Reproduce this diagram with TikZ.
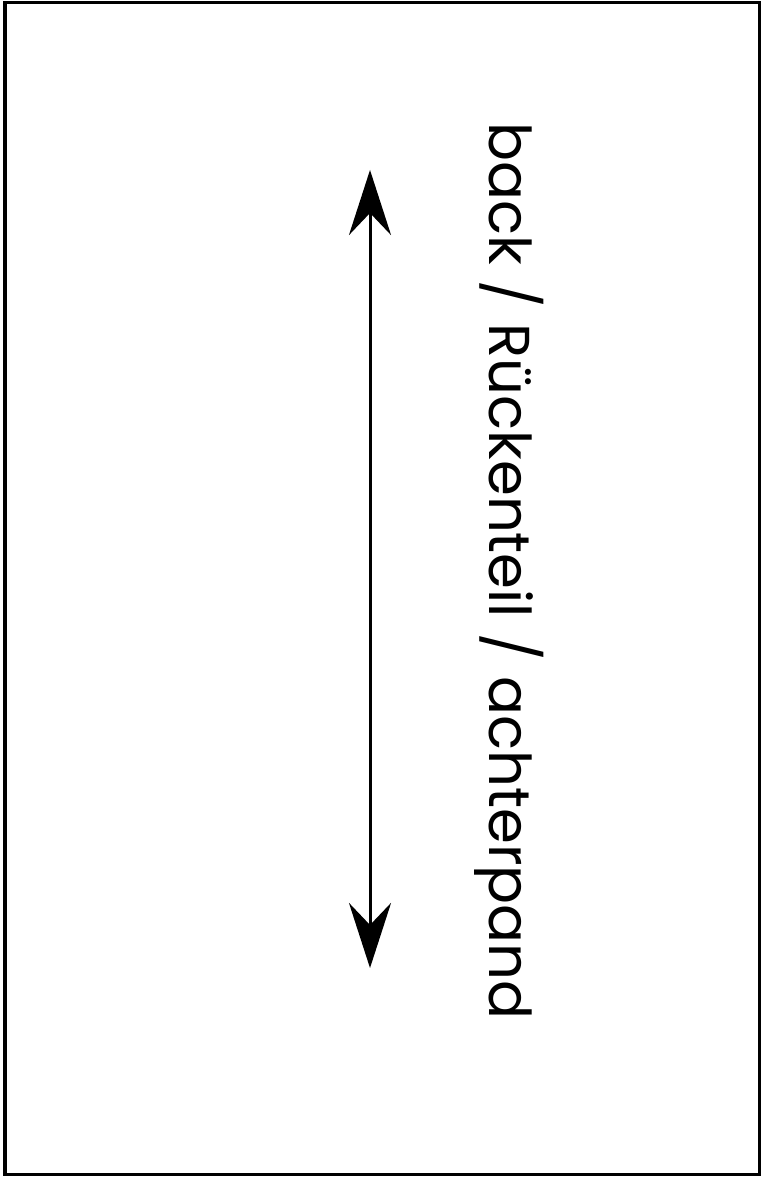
\documentclass[tikz,border=0pt]{standalone}
\usepackage{fontspec}
\setmainfont{Poppins}
\usetikzlibrary{arrows.meta}

\begin{document}
\begin{tikzpicture}
	[x=0.01cm, y=-0.01cm,
	frame/.style={draw=black, line width=0.3mm},
	grainline/.style={line width=0.3mm, {Stealth[length=6.5mm,width=4.2mm,inset=2.2mm]}-{Stealth[length=6.5mm,width=4.2mm,inset=2.2mm]}},
	label/.style={rotate=-90, anchor=base west, inner sep=0pt, font=\fontsize{16.4}{18}\selectfont}]
	\useasboundingbox (0,0) rectangle (763,1177);
	\draw [frame] (5,3) rectangle (759,1174);
	\coordinate (top) at (370,170);
	\coordinate (bottom) at (370,968);
	\draw [grainline] (top) -- (bottom);
	\node (piece) [label] at (489,122) {back / Rückenteil / achterpand};
\end{tikzpicture}
\end{document}
